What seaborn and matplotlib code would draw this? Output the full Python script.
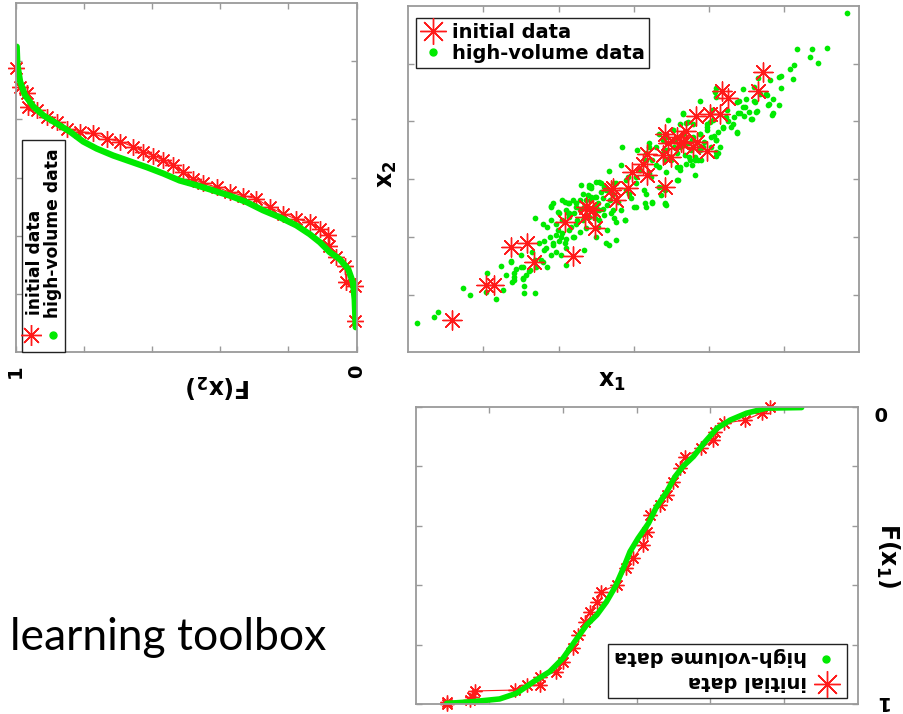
import matplotlib
matplotlib.use('Agg')
import matplotlib.pyplot as plt
from matplotlib.lines import Line2D
from matplotlib.patches import Rectangle
import seaborn as sns

# scatter: initial data (red asterisks)
init_x1 = [0.58, 1.04, 1.14, 1.36, 1.58, 1.67, 2.08, 2.19, 2.35, 2.40,
           2.46, 2.49, 2.70, 2.73, 2.77, 2.93, 2.98, 3.12, 3.18, 3.18,
           3.42, 3.39, 3.42, 3.46, 3.50, 3.57, 3.66, 3.70, 3.79, 3.83,
           3.84, 3.97, 4.02, 4.15, 4.18, 4.25, 4.65, 4.72, 2.37, 3.63]
init_x2 = [0.56, 1.17, 1.16, 1.83, 1.90, 1.56, 2.26, 1.66, 2.35, 2.49,
           2.47, 2.15, 2.81, 2.84, 2.64, 2.84, 3.13, 3.27, 3.44, 3.07,
           2.87, 3.41, 3.79, 3.62, 3.39, 3.73, 3.62, 3.84, 3.56, 4.10,
           3.64, 3.49, 4.13, 4.13, 4.53, 4.41, 4.53, 4.86, 2.52, 3.65]

# scatter: high-volume data (green dots)
hv_x1 = [0.11, 0.34, 0.40, 0.73, 0.82, 1.05, 1.03, 1.17, 1.26, 1.23,
         1.30, 1.38, 1.41, 1.43, 1.37, 1.50, 1.53, 1.54, 1.54, 1.68,
         1.57, 1.62, 1.69, 1.70, 1.77, 1.74, 1.79, 1.81, 1.85, 1.90,
         1.85, 1.92, 1.97, 1.99, 2.03, 2.08, 2.10, 2.12, 2.17, 2.21,
         2.25, 2.30, 2.34, 2.34, 2.41, 2.50, 2.43, 2.57, 2.54, 2.19,
         1.99, 2.05,
         2.12, 2.67, 2.77, 2.89, 2.70, 2.85, 3.03, 3.15, 3.21, 3.36,
         3.42, 3.59, 3.46, 3.81, 3.88, 4.07, 4.09, 4.15, 4.37, 4.47,
         4.45, 4.56, 4.60, 4.84, 4.85, 4.93, 4.96, 4.96, 5.08, 5.12,
         5.14, 5.17, 5.35, 5.37, 5.45, 5.57, 5.84, 4.81, 4.65, 4.04,
         4.24, 3.97, 3.81, 3.75,
         2.67, 2.83, 3.05, 3.17, 3.66, 3.57, 3.43, 3.25, 3.16, 2.88,
         2.54, 2.43, 2.68, 2.90, 3.25, 3.34, 3.48, 3.61, 3.77, 3.88,
         3.97, 4.03, 4.05, 3.79, 3.65, 3.39, 3.30, 3.12, 3.03, 2.77,
         2.63, 2.50, 2.37, 2.23, 2.14, 2.54, 2.72, 3.17, 2.94, 3.39,
         3.57, 3.74, 3.92, 3.34, 3.52, 3.70, 3.21,
         4.79, 4.76, 4.60, 4.64, 4.58, 4.45, 4.50, 4.40, 4.39, 4.33,
         4.32, 4.19, 4.10, 4.10, 4.09, 4.25,
         2.43, 2.50, 2.59, 2.61, 2.72, 2.74, 2.79, 2.90, 2.92, 2.97,
         3.03, 3.08, 3.14, 3.17, 3.23, 3.30, 3.34, 3.39, 3.43, 3.50,
         3.54, 3.61, 3.68, 3.72, 3.77, 3.88, 3.41, 2.83, 2.61, 2.48,
         2.37, 2.52, 2.74, 3.85, 3.21, 2.65, 2.77, 3.01, 3.41, 3.25,
         2.41, 2.50, 2.39, 2.48, 2.57, 2.28, 2.23, 2.14, 2.10, 2.01,
         1.90, 1.90, 1.97, 2.05, 2.14, 2.21, 2.28, 2.23, 2.32, 2.41,
         2.48, 2.59, 2.65, 2.37, 2.28, 2.14, 2.05, 1.97, 1.88, 1.81,
         1.83, 1.92, 2.01, 2.10, 2.19, 2.03, 1.90, 1.79, 1.65, 1.68,
         1.50, 1.52, 1.41, 1.37, 1.41, 1.52, 1.61, 1.92, 2.08, 2.43,
         2.32, 2.52, 2.63, 2.10,
         4.08, 4.37, 4.41, 4.48, 4.54, 4.63, 4.61, 4.68, 4.77, 4.94,
         4.80, 4.85, 4.30, 4.37, 4.23, 4.19, 4.12, 4.10, 4.03, 4.10,
         3.88, 3.90, 3.81, 3.70, 3.61, 3.65, 3.72, 3.61, 3.52, 3.54,
         3.43, 3.79, 3.88, 3.97, 4.01, 3.94, 3.76, 3.57, 3.43, 3.41,
         4.12]
hv_x2 = [0.51, 0.61, 0.70, 1.12, 1.00, 1.38, 1.04, 0.92, 1.08, 1.49,
         1.34, 1.21, 1.31, 1.45, 1.59, 1.47, 1.27, 1.15, 1.02, 1.03,
         1.34, 1.43, 2.32, 1.48, 1.60, 1.89, 2.23, 1.77, 1.48, 2.53,
         2.17, 1.89, 1.74, 2.12, 2.00, 1.89, 1.51, 2.41, 2.17, 2.00,
         2.29, 2.90, 1.77, 2.52, 2.87, 2.00, 2.69, 2.93, 2.29, 2.64,
         2.43, 2.64,
         2.58, 1.86, 1.94, 2.29, 2.41, 3.56, 2.52, 2.58, 3.10, 2.72,
         2.57, 2.98, 4.03, 3.07, 4.36, 3.74, 3.40, 3.56, 3.80, 4.10,
         4.56, 4.05, 4.36, 4.12, 4.38, 4.28, 4.58, 4.78, 4.91, 4.74,
         4.97, 5.25, 5.11, 5.26, 5.01, 5.28, 5.88, 4.72, 4.75, 4.19,
         4.19, 3.96, 3.39, 3.33,
         3.14, 3.24, 3.50, 3.45, 4.13, 2.98, 2.55, 2.58, 2.52, 2.30,
         2.95, 2.88, 2.64, 2.98, 3.33, 3.21, 3.39, 3.56, 3.68, 3.79,
         3.91, 3.73, 4.02, 3.96, 3.79, 3.68, 3.56, 3.27, 3.04, 2.93,
         2.81, 2.69, 2.64, 2.52, 2.41, 2.46, 2.46, 2.75, 2.75, 2.87,
         3.21, 3.39, 3.56, 3.79, 3.85, 3.97, 3.62,
         4.29, 4.47, 4.59, 4.18, 4.05, 4.25, 4.38, 4.35, 4.14, 4.08,
         3.95, 3.90, 4.58, 4.43, 3.68, 4.01,
         2.64, 2.52, 2.67, 2.87, 2.75, 2.93, 2.61, 2.81, 3.04, 2.67,
         2.93, 3.16, 2.81, 3.33, 3.04, 3.24, 2.87, 3.45, 3.13, 3.33,
         3.56, 3.16, 3.42, 3.62, 3.24, 3.50, 2.81, 2.46, 2.38, 2.32,
         2.38, 2.17, 2.32, 3.33, 3.56, 2.12, 2.26, 2.52, 2.58, 2.61,
         2.90, 2.95, 2.72, 2.69, 2.78, 2.64, 2.58, 2.58, 2.46, 2.41,
         2.52, 2.29, 2.23, 2.29, 2.35, 2.41, 2.46, 2.23, 2.29, 2.35,
         2.43, 2.49, 2.55, 2.15, 2.09, 2.12, 2.06, 2.03, 2.00, 1.92,
         1.80, 1.86, 1.92, 1.97, 2.00, 1.68, 1.68, 1.57, 1.74, 1.60,
         1.68, 1.48, 1.37, 1.57, 1.25, 1.28, 1.40, 2.58, 2.61, 2.84,
         2.75, 2.58, 1.89, 1.80,
         4.51, 4.34, 4.14, 4.25, 4.17, 4.17, 4.34, 4.48, 4.46, 4.77,
         4.31, 4.14, 3.91, 3.82, 4.08, 3.88, 3.82, 3.68, 3.56, 3.47,
         3.56, 3.33, 3.33, 3.27, 3.21, 4.14, 3.99, 3.96, 3.85, 3.68,
         3.73, 3.73, 3.79, 3.85, 3.99, 3.65, 3.50, 3.45, 3.50, 3.33,
         3.45]

# left panel: F(x2) curves
cdf2_init_F = [0.006, 0.006, 0.030, 0.035, 0.060, 0.080, 0.084, 0.108, 0.138, 0.177,
               0.216, 0.255, 0.294, 0.333, 0.372, 0.411, 0.450, 0.480, 0.509, 0.538,
               0.567, 0.597, 0.626, 0.655, 0.694, 0.733, 0.773, 0.812, 0.851, 0.880,
               0.909, 0.938, 0.963, 0.968, 0.987, 1.000]
cdf2_init_x2 = [0.54, 1.14, 1.20, 1.49, 1.63, 1.83, 2.01, 2.12, 2.24, 2.29,
                2.38, 2.49, 2.64, 2.69, 2.75, 2.84, 2.90, 2.98, 3.10, 3.21,
                3.30, 3.38, 3.44, 3.53, 3.62, 3.67, 3.76, 3.79, 3.84, 3.96,
                4.05, 4.16, 4.22, 4.45, 4.56, 4.88]
cdf2_hv_F = [0.003, 0.006, 0.011, 0.025, 0.050, 0.079, 0.108, 0.138, 0.177, 0.226,
             0.275, 0.323, 0.372, 0.421, 0.470, 0.519, 0.567, 0.616, 0.665, 0.714,
             0.763, 0.802, 0.841, 0.880, 0.919, 0.948, 0.973, 0.987, 0.995, 0.997]
cdf2_hv_x2 = [0.43, 0.91, 1.20, 1.43, 1.60, 1.72, 1.89, 2.03, 2.18, 2.32,
              2.44, 2.58, 2.69, 2.78, 2.87, 2.95, 3.07, 3.18, 3.28, 3.38,
              3.50, 3.62, 3.79, 3.93, 4.07, 4.22, 4.42, 4.65, 4.94, 5.25]

# bottom panel: F(x1) curves
cdf1_init_x1 = [1.19, 1.30, 1.53, 1.82, 1.94, 1.96, 2.12, 2.35, 2.41, 2.50,
                2.59, 2.68, 2.82, 2.86, 2.91, 3.05, 3.14, 3.27, 3.48, 3.54,
                3.63, 3.70, 3.79, 3.86, 4.00, 4.09, 4.31, 4.31, 4.49, 4.65,
                5.19, 5.24, 5.26, 5.58, 5.58]
cdf1_init_F = [0.000, 0.020, 0.044, 0.055, 0.083, 0.111, 0.139, 0.167, 0.206, 0.251,
               0.296, 0.330, 0.364, 0.420, 0.465, 0.509, 0.543, 0.599, 0.622, 0.656,
               0.689, 0.723, 0.768, 0.812, 0.858, 0.891, 0.908, 0.936, 0.936, 0.953,
               0.956, 0.975, 0.987, 0.992, 1.000]
cdf1_hv_x1 = [0.76, 1.24, 1.51, 1.73, 1.91, 2.07, 2.23, 2.37, 2.48, 2.59,
              2.73, 2.84, 2.98, 3.09, 3.18, 3.29, 3.41, 3.54, 3.68, 3.81,
              4.00, 4.18, 4.40, 4.63, 4.86, 5.22, 5.58]
cdf1_hv_F = [0.002, 0.004, 0.021, 0.044, 0.072, 0.117, 0.167, 0.200, 0.235, 0.285,
             0.336, 0.392, 0.442, 0.487, 0.543, 0.605, 0.656, 0.700, 0.734, 0.779,
             0.846, 0.891, 0.925, 0.964, 0.983, 0.992, 0.998]

F_ticks = [1, 0.8, 0.6, 0.4, 0.2, 0]
F_ticklabels = ['1', '', '', '', '', '0']
x_ticks = [1, 2, 3, 4, 5]

RED = '#ff1a1a'
GREEN = '#00ea00'
GRAY = '#9a9a9a'
AST = (8, 2, 0)  # asterisk marker like matlab '*'

sns.set_style('white')
plt.rcParams['font.family'] = ['DejaVu Sans']
plt.rcParams['mathtext.fontset'] = 'dejavusans'
plt.rcParams['text.color'] = 'black'
plt.rcParams['axes.labelcolor'] = 'black'
plt.rcParams['xtick.labelcolor'] = 'black'
plt.rcParams['ytick.labelcolor'] = 'black'

fig = plt.figure(figsize=(9.04, 7.14), dpi=100)
ax_l = fig.add_axes([0.01737, 0.5066, 0.3772, 0.4892])
ax_s = fig.add_axes([0.4517, 0.5066, 0.4986, 0.4850])
ax_b = fig.add_axes([0.4598, 0.0140, 0.4889, 0.4160])


def frame(ax):
    for sp in ax.spines.values():
        sp.set_visible(True)
        sp.set_color(GRAY)
        sp.set_linewidth(1.3)
    ax.tick_params(direction='in', length=4, width=1, color=GRAY,
                   top=True, bottom=True, left=True, right=True,
                   labelbottom=False, labelleft=False)


# ---- left: F(x2), rotated view ----
sns.lineplot(x=cdf2_init_F, y=cdf2_init_x2, sort=False, estimator=None, ax=ax_l,
             color=RED, linewidth=0.8, marker=AST, markersize=12,
             markeredgecolor=RED, markeredgewidth=1, clip_on=False)
sns.lineplot(x=cdf2_hv_F, y=cdf2_hv_x2, sort=False, estimator=None, ax=ax_l,
             color=GREEN, linewidth=4.5, solid_capstyle='round')
ax_l.set_xlim(1, 0)
ax_l.set_ylim(0, 6)
frame(ax_l)
ax_l.set_xticks(F_ticks)
ax_l.set_xticklabels(F_ticklabels, rotation=90, fontsize=14, fontweight='bold')
ax_l.set_yticks(x_ticks)
ax_l.tick_params(axis='x', labelbottom=True, pad=9)
ax_l.set_xlabel(r'$\mathbf{F(x_2)}$', fontsize=17, rotation=180)
ax_l.xaxis.label.set_rotation_mode('default')
ax_l.xaxis.label.set_va('center')
ax_l.xaxis.set_label_coords(0.593, -0.094)
ax_l.set_ylabel('')

ax_l.add_patch(Rectangle((0.0176, 0.0), 0.127, 0.608, transform=ax_l.transAxes,
                         facecolor='white', edgecolor='#222222', linewidth=1,
                         zorder=5, clip_on=False))
ax_l.text(0.0566, 0.107, 'initial data', rotation=90, ha='center', va='bottom',
          fontsize=12.3, fontweight='bold', transform=ax_l.transAxes, zorder=6)
ax_l.text(0.110, 0.098, 'high-volume data', rotation=90, ha='center', va='bottom',
          fontsize=12.3, fontweight='bold', transform=ax_l.transAxes, zorder=6)
ax_l.plot([0.046], [0.050], marker=AST, ms=15, mec=RED, mew=1, ls='none',
          transform=ax_l.transAxes, zorder=6, clip_on=False)
ax_l.plot([0.110], [0.050], marker='o', ms=5, mfc=GREEN, mec=GREEN, ls='none',
          transform=ax_l.transAxes, zorder=6, clip_on=False)

# ---- top right: scatter x1 vs x2 ----
sns.scatterplot(x=hv_x1, y=hv_x2, ax=ax_s, color=GREEN, s=17, marker='o',
                linewidth=0, zorder=2)
sns.scatterplot(x=init_x1, y=init_x2, ax=ax_s, color=RED, s=190, marker=AST,
                linewidth=1, zorder=3)
ax_s.set_xlim(0, 6)
ax_s.set_ylim(0, 6)
frame(ax_s)
ax_s.set_xticks(x_ticks)
ax_s.set_yticks(x_ticks)
ax_s.set_xlabel(r'$\mathbf{x_1}$', fontsize=17)
ax_s.xaxis.label.set_va('center')
ax_s.xaxis.set_label_coords(0.451, -0.082)
ax_s.set_ylabel(r'$\mathbf{x_2}$', fontsize=17)
ax_s.yaxis.label.set_rotation_mode('default')
ax_s.yaxis.label.set_va('center')
ax_s.yaxis.set_label_coords(-0.048, 0.515)
handles = [Line2D([], [], marker=AST, ms=19, mec=RED, mew=1, ls='none'),
           Line2D([], [], marker='o', ms=5, mfc=GREEN, mec=GREEN, ls='none')]
leg = ax_s.legend(handles, ['initial data', 'high-volume data'], loc='upper left',
                  bbox_to_anchor=(0.016, 0.9645), borderaxespad=0, frameon=True,
                  fancybox=False, edgecolor='#222222', framealpha=1,
                  prop={'weight': 'bold', 'size': 14}, handlelength=1.3,
                  handletextpad=0.3, borderpad=0.25, labelspacing=0.1)
leg.get_frame().set_linewidth(1)

# ---- bottom right: F(x1), upside-down view ----
sns.lineplot(x=cdf1_init_x1, y=cdf1_init_F, sort=False, estimator=None, ax=ax_b,
             color=RED, linewidth=0.8, marker=AST, markersize=10,
             markeredgecolor=RED, markeredgewidth=1, clip_on=False)
sns.lineplot(x=cdf1_hv_x1, y=cdf1_hv_F, sort=False, estimator=None, ax=ax_b,
             color=GREEN, linewidth=4, solid_capstyle='round')
ax_b.set_xlim(6, 0)
ax_b.set_ylim(1, 0)
frame(ax_b)
ax_b.set_xticks(x_ticks)
ax_b.set_yticks(F_ticks)
ax_b.set_xlabel('')
# end labels of the F axis, upside down
ax_b.text(1.052, 0.985, F_ticklabels[-1], rotation=180, ha='center', va='center',
          fontsize=14, fontweight='bold', transform=ax_b.transAxes)
ax_b.text(1.054, 0.010, F_ticklabels[0], rotation=180, ha='center', va='center',
          fontsize=14, fontweight='bold', transform=ax_b.transAxes)
ax_b.yaxis.set_label_position('right')
ax_b.set_ylabel(r'$\mathbf{F(x_1)}$', fontsize=17, rotation=270)
ax_b.yaxis.label.set_rotation_mode('default')
ax_b.yaxis.label.set_va('center')
ax_b.yaxis.set_label_coords(1.067, 0.498)

ax_b.add_patch(Rectangle((0.436, 0.021), 0.539, 0.180, transform=ax_b.transAxes,
                         facecolor='white', edgecolor='#222222', linewidth=1,
                         zorder=5))
ax_b.text(0.886, 0.075, 'initial data', rotation=180, ha='right', va='center',
          fontsize=14, fontweight='bold', transform=ax_b.transAxes, zorder=6)
ax_b.text(0.886, 0.159, 'high-volume data', rotation=180, ha='right', va='center',
          fontsize=14, fontweight='bold', transform=ax_b.transAxes, zorder=6)
ax_b.plot([0.930], [0.066], marker=AST, ms=19, mec=RED, mew=1, ls='none',
          transform=ax_b.transAxes, zorder=6)
ax_b.plot([0.928], [0.150], marker='o', ms=5, mfc=GREEN, mec=GREEN, ls='none',
          transform=ax_b.transAxes, zorder=6)

fig.text(10 / 904, 1 - 650 / 714, 'learning toolbox', fontsize=32, color='black',
         family=['Lato', 'DejaVu Sans'], ha='left', va='baseline')

fig.savefig('out.png', dpi=100, facecolor='white')
